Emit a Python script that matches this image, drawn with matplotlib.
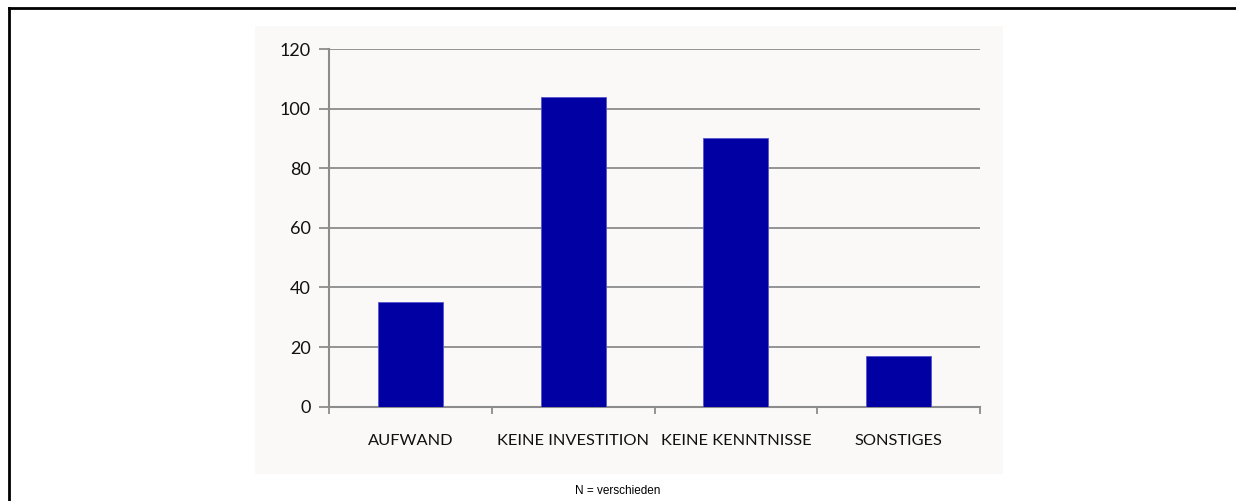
import matplotlib.pyplot as plt
from matplotlib.patches import Rectangle
from matplotlib.lines import Line2D

categories = ["AUFWAND", "KEINE INVESTITION", "KEINE KENNTNISSE", "SONSTIGES"]
values = [35, 104, 90, 17]
y_ticks = [0, 20, 40, 60, 80, 100, 120]
note = "N = verschieden"

W, H = 1236, 501
fig = plt.figure(figsize=(W / 100, H / 100), dpi=100)
fig.patch.set_facecolor("white")

# chart panel background (pale grey box behind the plot)
fig.patches.append(Rectangle((255 / W, 1 - 474 / H), (1003 - 255) / W, (474 - 26) / H,
                             transform=fig.transFigure, facecolor="#FAF9F7",
                             edgecolor="none", zorder=-5))
# black frame, top and left only visible
fig.lines.append(Line2D([9 / W, 1], [1 - 7.5 / H, 1 - 7.5 / H], transform=fig.transFigure,
                        color="black", lw=2))
fig.lines.append(Line2D([9 / W, 9 / W], [0, 1 - 7.5 / H], transform=fig.transFigure,
                        color="black", lw=2))

ax = fig.add_axes([329 / W, 1 - 406.7 / H, (980 - 329) / W, (406.7 - 49) / H])
ax.set_facecolor("none")

x = range(len(categories))
ax.bar(x, values, width=0.4, color="#0000A3", edgecolor="#5555D0", linewidth=0.6, zorder=3)

ax.set_xlim(-0.5, len(categories) - 0.5)
ax.set_ylim(0, 120)
ax.set_yticks(y_ticks)
ax.yaxis.grid(True, color="#8C8C8C", linewidth=1.3)
ax.set_axisbelow(True)

ax.set_xticks([i - 0.5 for i in range(len(categories) + 1)])
ax.set_xticklabels([])
ax.set_xticks(list(x), minor=True)
ax.set_xticklabels(categories, minor=True)
ax.tick_params(axis="x", which="major", length=5, color="#8C8C8C", width=1.3)
ax.tick_params(axis="x", which="minor", length=0, pad=20, labelsize=11.8)
ax.tick_params(axis="y", length=7, color="#8C8C8C", width=1.3, pad=6, labelsize=13)

for lab in ax.get_xticklabels(minor=True) + ax.get_yticklabels():
    lab.set_family("Lato")
    lab.set_color("#111111")

for s in ["top", "right"]:
    ax.spines[s].set_visible(False)
for s in ["left", "bottom"]:
    ax.spines[s].set_color("#8C8C8C")
    ax.spines[s].set_linewidth(1.5)

fig.text(618 / W, 1 - 491 / H, note, ha="center", va="center",
         family="Liberation Sans", fontsize=8.5)

fig.savefig("out.png", dpi=100)
